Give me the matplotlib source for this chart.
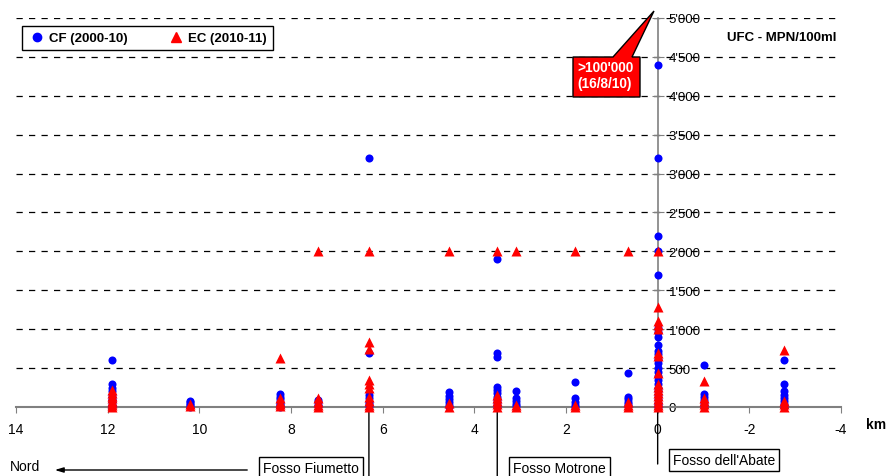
import numpy as np
import matplotlib.pyplot as plt
from matplotlib.lines import Line2D
from matplotlib.patches import Polygon
from matplotlib.ticker import FuncFormatter

plt.rcParams['font.family'] = ['Liberation Sans', 'DejaVu Sans']

# posizione delle stazioni (km, 0 = Fosso dell'Abate)
stations_km = [11.9, 10.2, 8.25, 7.4, 6.3, 4.55, 3.5, 3.1, 1.8, 0.65, 0.0, -1.0, -2.75]

# CF (2000-10)
cf_values = [
    [600, 300, 250, 200, 150, 120, 90, 60, 30, 10, 0],
    [80, 60, 40, 20, 5],
    [170, 130, 100, 70, 40, 20, 0],
    [90, 60, 30, 10],
    [3200, 700, 150, 110, 70, 40, 10],
    [190, 140, 100, 60, 30, 0],
    [1900, 700, 640, 260, 220, 180, 130, 90, 50, 10],
    [210, 120, 80, 40, 10],
    [320, 110, 70, 30, 0],
    [440, 130, 100, 70, 40, 10],
    [4400, 3200, 2200, 2010, 1700, 1020, 960, 900, 800, 720, 680, 620, 560,
     500, 450, 400, 350, 300, 250, 200, 150, 100, 50, 20, 0],
    [540, 170, 130, 90, 50, 10],
    [610, 300, 200, 160, 120, 80, 40, 0],
]

# EC (2010-11)
ec_values = [
    [220, 180, 140, 110, 80, 50, 20, 0],
    [40, 10],
    [630, 110, 70, 40, 10],
    [2000, 110, 70, 30, 0],
    [2000, 830, 740, 350, 300, 240, 130, 80, 30, 0],
    [2000, 50, 0],
    [2000, 160, 120, 80, 40, 0],
    [2000, 20, 0],
    [2000, 30, 0],
    [2000, 70, 30, 0],
    [2000, 1280, 1100, 1050, 1000, 700, 650, 440, 300, 260, 220, 180, 140,
     100, 60, 20, 0],
    [330, 120, 80, 40, 0],
    [730, 80, 40, 0],
]

y_ticks = np.arange(0, 5001, 500)
x_ticks = np.arange(14, -5, -2)

W, H = 888, 477
def fx(px):
    return px / W
def fy(py):
    return 1 - py / H

fig = plt.figure(figsize=(8.88, 4.77), dpi=100)
ax = fig.add_axes([fx(16), fy(408), fx(841) - fx(16), fy(19) - fy(408)])

cf_x = np.concatenate([[k] * len(v) for k, v in zip(stations_km, cf_values)])
cf_y = np.concatenate(cf_values)
ec_x = np.concatenate([[k] * len(v) for k, v in zip(stations_km, ec_values)])
ec_y = np.concatenate(ec_values)

ax.plot(cf_x, cf_y, 'o', color='#0000ff', ms=5.8, mec='none', clip_on=False, zorder=3)
ax.plot(ec_x, ec_y, '^', color='#ff0000', ms=7.8, mec='none', clip_on=False, zorder=4)

ax.set_xlim(14, -4)
ax.set_ylim(0, 5000)
ax.set_xticks(x_ticks)
ax.set_xticklabels([str(int(v)) for v in x_ticks])
ax.set_yticks(y_ticks)
ax.yaxis.set_major_formatter(FuncFormatter(lambda v, p: f"{int(v):,}".replace(',', "'")))

for s in ['top', 'left']:
    ax.spines[s].set_visible(False)
ax.spines['bottom'].set_color('#808080')
ax.spines['bottom'].set_linewidth(1.5)
ax.spines['right'].set_position(('data', 0))
ax.spines['right'].set_color('#808080')
ax.spines['right'].set_linewidth(1.2)
ax.yaxis.tick_right()
ax.tick_params(axis='y', direction='inout', length=8, color='#808080', labelsize=9.5, pad=4)
ax.tick_params(axis='x', direction='out', length=4, color='#808080', labelsize=10, pad=7)
ax.yaxis.grid(True, color='black', ls=(0, (5, 5)), lw=0.9)

# legenda
h1 = Line2D([], [], marker='o', color='#0000ff', ls='none', ms=6)
h2 = Line2D([], [], marker='^', color='#ff0000', ls='none', ms=7)
leg = fig.legend([h1, h2], ['CF (2000-10)', 'EC (2010-11)'], loc='upper left',
                 bbox_to_anchor=(fx(22), fy(27)), ncol=2, fancybox=False,
                 edgecolor='black', framealpha=1, prop={'weight': 'bold', 'size': 9.5},
                 borderaxespad=0, handletextpad=0.3, columnspacing=3.0,
                 borderpad=0.45, handlelength=1.3)
leg.get_frame().set_linewidth(1)

fig.text(fx(727), fy(38), 'UFC - MPN/100ml', fontsize=9.5, fontweight='bold', va='center')
fig.text(fx(866), fy(425), 'km', fontsize=10, fontweight='bold', va='center')
fig.text(fx(10), fy(467), 'Nord', fontsize=10, va='center')
ax.annotate('', xy=(fx(52), fy(471)), xytext=(fx(250), fy(471)), xycoords='figure fraction',
            arrowprops=dict(arrowstyle='-|>,head_length=0.5,head_width=0.15', color='black', lw=1))

# fossi
fossi = [('Fosso Fiumetto', 6.3, 263, 469, 477),
         ('Fosso Motrone', 3.5, 513, 469, 477),
         ("Fosso dell'Abate", 0.0, 673, 461, 465)]
for name, km, tx, ty, yend in fossi:
    fig.text(fx(tx), fy(ty), name, fontsize=10, va='center',
             bbox=dict(boxstyle='square,pad=0.3', fc='white', ec='black', lw=1))
    ax.annotate('', xy=(km, 0), xytext=(km, fy(yend)), textcoords=('data', 'figure fraction'),
                arrowprops=dict(arrowstyle='-', color='black', lw=1, shrinkA=0, shrinkB=0),
                annotation_clip=False)

# callout >100'000
pts = [(573, 98), (573, 58), (613, 58), (654, 12), (632, 58), (640, 58), (640, 98)]
fig.add_artist(Polygon([(fx(x), fy(y)) for x, y in pts], closed=True, fc='#ff0000',
                       ec='black', lw=1, transform=fig.transFigure))
fig.text(fx(577), fy(76), ">100'000\n(16/8/10)", color='white', fontsize=9.8,
         fontweight='bold', va='center', linespacing=1.25)

fig.savefig('out.png', dpi=100)
